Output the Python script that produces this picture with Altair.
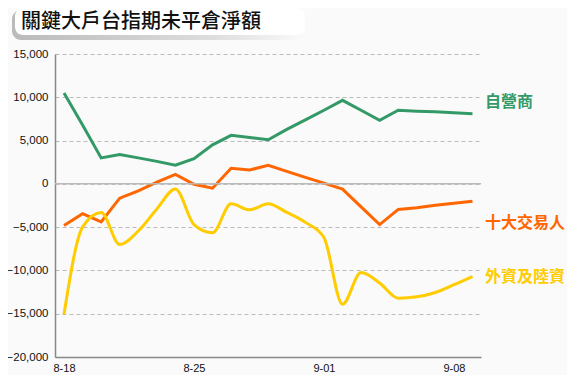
import altair as alt
import pandas as pd

dates = ["2017-08-18", "2017-08-19", "2017-08-20", "2017-08-21", "2017-08-22", "2017-08-23",
         "2017-08-24", "2017-08-25", "2017-08-26", "2017-08-27", "2017-08-28", "2017-08-29",
         "2017-08-30", "2017-08-31", "2017-09-01", "2017-09-02", "2017-09-03", "2017-09-04",
         "2017-09-05", "2017-09-06", "2017-09-07", "2017-09-08", "2017-09-09"]
dealers = [10500, 6800, 3000, 3400, 3000, 2600, 2150, 2900, 4500, 5600, 5350, 5100,
           6300, 7400, 8500, 9650, 8500, 7350, 8500, 8400, 8330, 8220, 8100]
top10 = [-4800, -3450, -4400, -1650, -800, 200, 1100, -50, -500, 1800, 1600, 2150,
         1450, 750, 80, -600, -2650, -4700, -2950, -2750, -2480, -2240, -2000]
foreign = [-15050, -5000, -3300, -7000, -5450, -2900, -600, -4700, -5650, -2300, -3000, -2300,
           -3300, -4450, -6200, -13900, -10250, -11450, -13200, -13050, -12550, -11650, -10700]
series_names = ["自營商", "十大交易人", "外資及陸資"]
series_colors = ["#339966", "#FF6600", "#FFCC00"]
tick_dates = ["2017-08-18", "2017-08-25", "2017-09-01", "2017-09-08"]
title_text = "關鍵大戶台指期未平倉淨額"

df = pd.DataFrame({
    "date": dates * 3,
    "series": [series_names[0]] * len(dates) + [series_names[1]] * len(dates) + [series_names[2]] * len(dates),
    "value": dealers + top10 + foreign,
})

def dt(s, h=0, m=0):
    y, mo, d = [int(p) for p in s.split("-")]
    return alt.DateTime(year=y, month=mo, date=d, hours=h, minutes=m, utc=True)

xscale = alt.Scale(type="utc", domain=[dt("2017-08-17", 12, 21), dt("2017-09-09", 11, 0)])
yscale = alt.Scale(domain=[-20000, 15000], nice=False, zero=False)

xaxis = alt.Axis(values=[dt(t) for t in tick_dates], format="%-m-%d", title=None, ticks=False,
                 grid=False, domainColor="#888888", domainWidth=1.5, labelPadding=5,
                 labelFont="Liberation Sans", labelFontSize=11, labelColor="#111111")
yaxis = alt.Axis(values=list(range(-20000, 15001, 5000)), format=",.0f", title=None, ticks=False,
                 grid=True, gridDash=[4, 3], gridColor="#BBBBBB", gridWidth=1,
                 domainColor="#888888", domainWidth=1.5, labelPadding=7,
                 labelFont="Liberation Sans", labelFontSize=11.5, labelColor="#111111")

base = alt.Chart(df)

shadow = alt.Chart(pd.DataFrame({"a": [0]})).mark_rect(
    cornerRadius=9,
    color=alt.Gradient(gradient="linear", x1=0, x2=1, y1=0, y2=0,
                       stops=[alt.GradientStop(offset=0, color="#AAAAAA"),
                              alt.GradientStop(offset=0.7, color="#D8D8D8"),
                              alt.GradientStop(offset=1, color="#FAFAFA")]),
    opacity=0.8,
).encode(x=alt.value(-43), x2=alt.value(250), y=alt.value(-44), y2=alt.value(-14))

box = alt.Chart(pd.DataFrame({"a": [0]})).mark_rect(
    cornerRadius=8, color="#FFFFFF"
).encode(x=alt.value(-40), x2=alt.value(250), y=alt.value(-46), y2=alt.value(-19))

title = alt.Chart(pd.DataFrame({"t": [title_text]})).mark_text(
    align="left", baseline="middle", font="Noto Sans CJK TC", fontSize=20, fontWeight=500,
    color="#111111"
).encode(text="t:N", x=alt.value(-34), y=alt.value(-32))

zero = alt.Chart(pd.DataFrame({"y": [0]})).mark_rule(color="#BBBBBB", strokeWidth=1.5).encode(
    y=alt.Y("y:Q", scale=yscale))

def line(name, color, interp):
    return base.transform_filter(alt.datum.series == name).mark_line(
        color=color, strokeWidth=3, interpolate=interp
    ).encode(
        x=alt.X("date:T", scale=xscale, axis=xaxis),
        y=alt.Y("value:Q", scale=yscale, axis=yaxis),
    )

lines = [line(series_names[0], series_colors[0], "linear"),
         line(series_names[1], series_colors[1], "linear"),
         line(series_names[2], series_colors[2], "monotone")]

label_y = [48, 169, 223]
labels = [alt.Chart(pd.DataFrame({"t": [n]})).mark_text(
    align="left", baseline="middle", font="Noto Sans CJK TC", fontSize=16, fontWeight="bold",
    color=c).encode(text="t:N", x=alt.value(430), y=alt.value(ly))
    for n, c, ly in zip(series_names, series_colors, label_y)]

chart = alt.layer(shadow, box, title, *lines, zero, *labels).properties(
    width=426, height=303,
    padding={"left": 47, "top": 46, "right": 86, "bottom": 18},
    autosize="none",
    background="#FAFAFA",
).configure_view(stroke=None)

chart.save("out.html", embed_options={"renderer": "svg", "actions": False})
